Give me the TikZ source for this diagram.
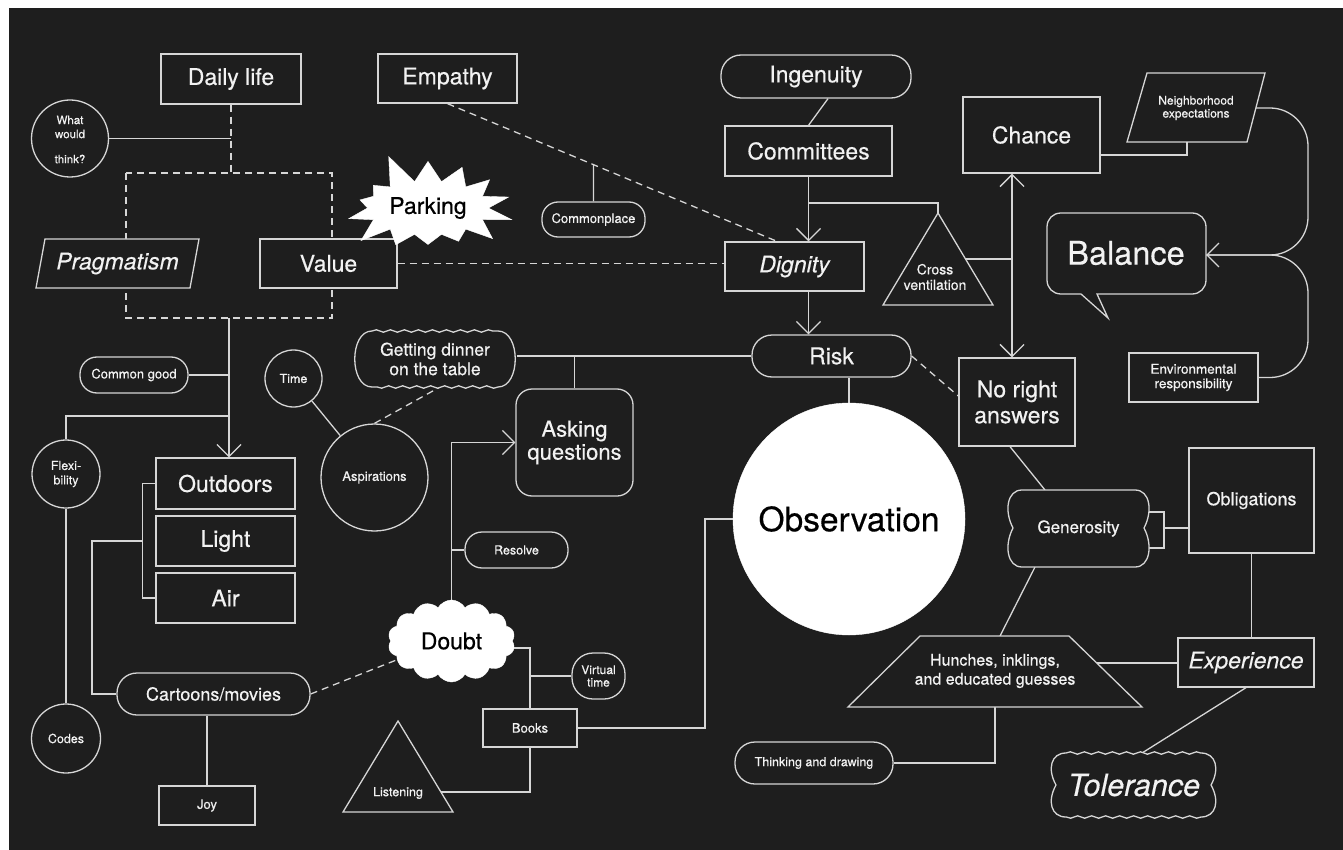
\documentclass[tikz,border=0pt]{standalone}
\usepackage{fontspec}
\setmainfont{TeX Gyre Heros}[UprightFeatures={FakeBold=0.4},ItalicFeatures={FakeBold=0.4}]
\usetikzlibrary{arrows.meta,shapes.symbols,shapes.geometric,calc,decorations.pathmorphing}
\pgfdeclarelayer{bgl}\pgfdeclarelayer{lines}\pgfdeclarelayer{shp}
\pgfsetlayers{bgl,lines,shp,main}
\definecolor{bgc}{HTML}{1E1E1E}
\definecolor{lnc}{HTML}{D6D6D6}
\definecolor{txc}{HTML}{F2F2F2}
\newcommand\fsA{\fontsize{23}{26}\selectfont}
\newcommand\fsB{\fontsize{17.5}{19.5}\selectfont}
\newcommand\fsC{\fontsize{13}{15}\selectfont}
\newcommand\fsD{\fontsize{12.5}{14.5}\selectfont}
\newcommand\fsE{\fontsize{11.5}{14}\selectfont}
\newcommand\fsBal{\fontsize{32.5}{36}\selectfont}
\newcommand\fsObs{\fontsize{33.5}{38}\selectfont}
\newcommand\fsTol{\fontsize{30.5}{34}\selectfont}
\newcommand\fsAq{\fontsize{22}{23}\selectfont}
\newcommand\fsHu{\fontsize{16}{19}\selectfont}
\newcommand\fsGn{\fontsize{17}{20}\selectfont}
\newcommand\fsOb{\fontsize{18}{21}\selectfont}
\newcommand\fsCm{\fontsize{18}{21}\selectfont}
\newcommand\fsAs{\fontsize{13}{16}\selectfont}
\newcommand\fsNb{\fontsize{12}{13}\selectfont}
\newcommand\fsEr{\fontsize{13.5}{14.5}\selectfont}
\newcommand\fsCv{\fontsize{14}{15.5}\selectfont}
\newcommand\fsVt{\fontsize{12}{12.5}\selectfont}
\begin{document}
\begin{tikzpicture}[x=1pt,y=-1pt,
  base/.style={draw=lnc,line width=1.3pt,fill=bgc,text=txc,inner sep=0pt,align=center},
  sz/.style 2 args={minimum width=#1pt,minimum height=#2pt},
  bx/.style={base,rectangle},
  rbx/.style={base,rectangle,rounded corners=#1pt},
  circ/.style={base,circle,minimum size=#1pt},
  lbl/.style={text=txc,inner sep=0pt,align=center},
  shpst/.style={draw=lnc,line width=1.3pt,fill=bgc},
  ln/.style={draw=lnc,line width=1.3pt},
  dsh/.style={ln,dash pattern=on 7pt off 5pt},
  arr/.style={-{Straight Barb[length=12pt,width=24pt]}},
  wavy/.style={decoration={snake,amplitude=1.2pt,segment length=14pt}},
]
\useasboundingbox (0,0) rectangle (1343,850);
\begin{pgfonlayer}{bgl}
\fill[white] (0,0) rectangle (1343,850);
\fill[bgc] (9,8) rectangle (1343,850);
\end{pgfonlayer}

% ---------- nodes ----------
\node[bx,sz={140}{50},font=\fsA] (dl) at (231,79) {Daily life};
\node[circ=77] (ww) at (70,138.5) {};
\node[lbl,font=\fsE] (wwa) at (70,127) {What\\would};
\node[lbl,font=\fsE] (wwb) at (70,159) {think?};
\node[lbl,font=\fsA\itshape] (pg) at (117.5,263.5) {Pragmatism};
\node[bx,sz={137}{49},font=\fsA] (vl) at (328.5,263.5) {Value};
\node[bx,sz={139}{49},font=\fsA] (em) at (447.5,78.5) {Empathy};
\node[starburst,fill=white,draw=white,starburst points=14,starburst point height=32pt,random starburst=5,minimum width=185pt,minimum height=118pt,inner sep=0pt,font=\fsA,text=black] (pk) at (428,208) {Parking};
\node[rbx=16,sz={103}{35},font=\fsC] (cp) at (593.5,219.5) {Commonplace};
\node[rbx=20,sz={190}{43},font=\fsA] (ig) at (816,76.5) {Ingenuity};
\node[bx,sz={167}{50},font=\fsA] (co) at (808.5,151) {Committees};
\node[bx,sz={139}{49},font=\fsA\itshape] (dg) at (794.5,266.5) {Dignity};
\node[lbl,font=\fsCv] (cv) at (935,277) {Cross\\ventilation};
\node[bx,sz={137}{76},font=\fsA] (ch) at (1031.5,135) {Chance};
\node[lbl,font=\fsNb] (nb) at (1196,108) {Neighborhood\\expectations};
\node[lbl,font=\fsBal] (ba) at (1126,253) {Balance};
\node[bx,sz={129}{49},font=\fsEr] (er) at (1193.5,377.5) {Environmental\\responsibility};
\node[bx,sz={116}{88},font=\fsA] (nr) at (1017,402) {No right\\answers};
\node[rbx=20,sz={159}{42},font=\fsA] (rk) at (831.5,356) {Risk};
\node[circle,fill=white,draw=white,minimum size=232pt,inner sep=0pt,font=\fsObs,text=black] (ob) at (849,519) {Observation};
\node[lbl,font=\fsB] (gd) at (435,359) {Getting dinner\\on the table};
\node[circ=57,font=\fsD] (tm) at (293.5,378.5) {Time};
\node[rbx=17,sz={108}{36},font=\fsC] (cg) at (134,375) {Common good};
\node[circ=107,font=\fsAs] (as) at (374.5,477.5) {Aspirations};
\node[rbx=16,sz={117}{107},font=\fsAq] (aq) at (574.5,442.5) {Asking\\questions};
\node[rbx=17,sz={103}{36},font=\fsD] (rs) at (516.5,550) {Resolve};
\node[circ=68,font=\fsD] (fx) at (66,474) {Flexi-\\bility};
\node[bx,sz={139}{51},font=\fsA] (od) at (225.5,483.5) {Outdoors};
\node[bx,sz={139}{50},font=\fsA] (lt) at (225.5,541) {Light};
\node[bx,sz={139}{50},font=\fsA] (air) at (225.5,598) {Air};
\node[rbx=20,sz={193}{42},font=\fsCm] (cm) at (213.5,694) {Cartoons/movies};
\node[circ=69,font=\fsD] (cd) at (66,738.5) {Codes};
\node[bx,sz={96}{39},font=\fsC] (jy) at (207,805.5) {Joy};
\node[cloud,cloud puffs=14,cloud puff arc=120,cloud ignores aspect,fill=white,draw=white,minimum width=127pt,minimum height=82pt,inner sep=0pt,font=\fsA,text=black] (db) at (451.5,641) {Doubt};
\node[rbx=21,sz={53}{46},font=\fsVt] (vt) at (598.5,676) {Virtual\\time};
\node[bx,sz={94}{38},font=\fsC] (bk) at (530,728) {Books};
\node[lbl,font=\fsD] (ls) at (398,793) {Listening};
\node[lbl,font=\fsGn] (gn) at (1078.5,528.5) {Generosity};
\node[bx,sz={125}{105},font=\fsOb] (obl) at (1251.5,500.5) {Obligations};
\node[bx,sz={136}{49},font=\fsA\itshape] (ex) at (1246,662.5) {Experience};
\node[lbl,font=\fsHu] (hu) at (995,671) {Hunches, inklings,\\and educated guesses};
\node[rbx=20,sz={158}{42},font=\fsD] (td) at (814,763) {Thinking and drawing};
\node[lbl,font=\fsTol\itshape] (tl) at (1134,785) {Tolerance};

% ---------- key points of drawn shapes ----------
\coordinate (cvA) at (938,213); \coordinate (cvB) at (883,305); \coordinate (cvC) at (993,305);
\coordinate (lsA) at (398,721); \coordinate (lsB) at (343,812); \coordinate (lsC) at (453,812);
\coordinate (nbB) at (1187,142); \coordinate (nbR) at (1256,108);
\coordinate (baR) at (1206,255);
\coordinate (gdR) at (517,356); \coordinate (gdB) at (440,387);
\coordinate (gnT) at (1045,490); \coordinate (gnB) at (1035,567);
\coordinate (gnR1) at (1146,512); \coordinate (gnR2) at (1146,548);
\coordinate (huT) at (1000,636); \coordinate (huB) at (995,707); \coordinate (huR) at (1097,663);
\coordinate (tlT) at (1142,753);

\begin{pgfonlayer}{shp}
\draw[ln] ($(ww.center)+(-23,11)$) -- ($(ww.center)+(23,11)$);
\draw[shpst] (45,239) -- (199,239) -- (190,288) -- (36,288) -- cycle;
\draw[shpst] (1147,73) -- (1265,73) -- (1247,142) -- (1127,142) -- cycle;
\draw[shpst] (1081,294) -- (1061,294) .. controls (1053,294) and (1047,288) .. (1047,280) -- (1047,227)
  .. controls (1047,219) and (1053,213) .. (1061,213) -- (1192,213) .. controls (1200,213) and (1206,219) .. (1206,227)
  -- (1206,280) .. controls (1206,288) and (1200,294) .. (1192,294) -- (1097,294) -- (1108,318) -- cycle;
\draw[shpst] (cvA) -- (cvC) -- (cvB) -- cycle;
\draw[shpst] (lsA) -- (lsC) -- (lsB) -- cycle;
\draw[shpst] (920,636) -- (1069,636) -- (1142,707) -- (848,707) -- cycle;
\draw[shpst] (372,331) decorate[wavy] {-- (498,331)} .. controls (521,331) and (521,387) .. (498,387)
  decorate[wavy] {-- (372,387)} .. controls (349,387) and (349,331) .. (372,331) -- cycle;
\draw[shpst] (1022,490) -- (1135,490) .. controls (1150,490) and (1153,511) .. (1144,528)
  .. controls (1153,545) and (1150,567) .. (1135,567) -- (1022,567)
  .. controls (1007,567) and (1004,545) .. (1013,528) .. controls (1004,511) and (1007,490) .. (1022,490) -- cycle;
\draw[shpst] (1066,753) decorate[wavy] {-- (1201,753)} .. controls (1216,753) and (1220,769) .. (1211,785)
  .. controls (1220,801) and (1216,817) .. (1201,817) decorate[wavy] {-- (1066,817)}
  .. controls (1051,817) and (1047,801) .. (1056,785) .. controls (1047,769) and (1051,753) .. (1066,753) -- cycle;
\end{pgfonlayer}

% ---------- connectors ----------
\begin{pgfonlayer}{lines}
\coordinate (drTL) at (126,173); \coordinate (drBR) at (332,318); \coordinate (drB) at (229,318);
\draw[dsh] (drTL) rectangle (drBR);
\draw[dsh] (dl.south) -- (dl.south |- drTL);
\draw[ln] (ww.east) -- (ww.east -| dl.south);
\draw[ln,arr] (drB) -- (drB |- od.north);
\draw[ln] (cg.east) -- (cg.east -| drB);
\coordinate (j1) at (229,416);
\draw[ln] (j1) -| (fx.north);
\draw[ln] (fx.south) -- (cd.north);
\draw[ln] (od.west) -- ++(-13,0) coordinate (b1) |- (air.west);
\coordinate (b2) at (92,541);
\draw[ln] (b1 |- lt.west) -- (b2) |- (cm.west);
\draw[ln] (jy.north) -- (jy.north |- cm.south);
\draw[dsh] (cm.east) -- (db.199);
\draw[ln] (tm) -- (as);
\draw[dsh] (as.north) -- (gdB);
\draw[ln] (rk.west) -- (rk.west -| gdR);
\draw[ln] (aq.north) -- (aq.north |- rk.west);
\draw[ln,arr] (db.north) |- (aq.west);
\draw[ln] (rs.west) -- (rs.west -| db.north);
\coordinate (dbR) at (512,648);
\draw[ln] (dbR) -| (bk.north);
\draw[ln] (vt.west) -- (vt.west -| bk.north);
\coordinate (lsR) at ($(lsA)!0.78!(lsC)$);
\draw[ln] (bk.south) |- (lsR);
\coordinate (j2) at (705,728);
\draw[ln] (bk.east) -- (j2) |- (ob.west);
\draw[ln] ([xshift=12pt]ig.south) -- (co.north);
\draw[ln,arr] (co.south) -- (co.south |- dg.north);
\coordinate (j3) at (808.5,203);
\draw[ln] (j3) -| (cvA);
\draw[ln,arr] (co.south |- dg.south) -- (co.south |- rk.north);
\draw[dsh] (vl.east) -- (vl.east -| dg.west);
\coordinate (emE) at ([xshift=-17.5pt]dg.north);
\draw[dsh] (em.south) -- (emE);
\coordinate (jc) at ($(em.south)!0.443!(emE)$);
\draw[ln] (jc) -- (cp.north);
\coordinate (xv) at (1012,0);
\coordinate (cvM) at ($(cvA)!0.5!(cvC)$);
\draw[ln] (cvM) -- (cvM -| xv);
\draw[ln,{Straight Barb[length=12pt,width=24pt]}-{Straight Barb[length=12pt,width=24pt]}] (ch.south -| xv) -- (nr.north -| xv);
\draw[ln] ([yshift=-20pt]ch.east) -| (nbB);
\draw[ln,arr,rounded corners=38pt] (nbR) -- (1308,108) -- (1308,255) -- (baR);
\draw[ln,rounded corners=38pt] (er.east) -- (1308,377.5) -- (1308,255) -- (baR);
\draw[dsh] (rk.east) -- ([yshift=6pt]nr.west);
\draw[ln] (ob.north) -- (ob.north |- rk.south);
\draw[ln] ([xshift=-7pt]nr.south) -- (gnT);
\draw[ln] (gnB) -- (huT);
\coordinate (gb) at (1164,528);
\draw[ln] (gnR1) -| (gb |- gnR2) -- (gnR2);
\draw[ln] (gb) -- (gb -| obl.west);
\draw[ln] (obl.south) -- (obl.south |- ex.north);
\draw[ln] (huR) -- (huR -| ex.west);
\draw[ln] (ex.south) -- (tlT);
\draw[ln] (td.east) -| (huB);
\end{pgfonlayer}
\end{tikzpicture}
\end{document}
